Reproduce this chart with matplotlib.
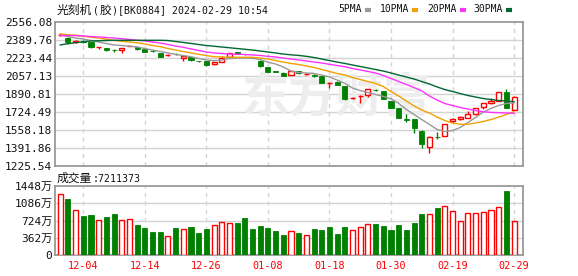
import matplotlib
matplotlib.use("Agg")
import matplotlib.pyplot as plt
from matplotlib.lines import Line2D
import numpy as np
import pandas as pd

MONO = ['DejaVu Sans Mono', 'Noto Sans CJK SC']
CJK = ['Noto Sans CJK SC', 'DejaVu Sans Mono']
plt.rcParams['font.family'] = MONO

# ---------------- data ----------------
holidays = ['2024-01-01', '2024-02-09', '2024-02-12', '2024-02-13',
            '2024-02-14', '2024-02-15', '2024-02-16']
dates = [d.strftime('%m-%d') for d in pd.bdate_range('2023-11-29', '2024-02-29')
         if d.strftime('%Y-%m-%d') not in holidays]

opens = [2432, 2408, 2372, 2383, 2367, 2322, 2313, 2300, 2300, 2332,
         2328, 2302, 2290, 2267, 2248, 2262, 2220, 2230, 2198, 2196,
         2168, 2186, 2230, 2279, 2260, 2233, 2198, 2138, 2103, 2088,
         2066, 2100, 2076, 2068, 2057, 1990, 2004, 1965, 1852, 1870,
         1879, 1930, 1918, 1826, 1759, 1660, 1657, 1552, 1398, 1498,
         1503, 1641, 1657, 1672, 1703, 1774, 1806, 1829, 1906, 1743]
closes = [2440, 2367, 2378, 2372, 2322, 2325, 2300, 2295, 2318, 2337,
          2304, 2279, 2286, 2236, 2253, 2258, 2240, 2205, 2194, 2156,
          2186, 2223, 2267, 2260, 2256, 2228, 2149, 2097, 2098, 2060,
          2103, 2085, 2080, 2055, 1995, 1995, 1977, 1842, 1856, 1875,
          1934, 1925, 1845, 1764, 1672, 1655, 1580, 1429, 1491, 1494,
          1611, 1663, 1681, 1703, 1759, 1805, 1830, 1906, 1764, 1860]
highs = [2452, 2415, 2386, 2390, 2371, 2327, 2318, 2302, 2320, 2341,
         2332, 2305, 2295, 2270, 2262, 2268, 2243, 2233, 2200, 2198,
         2190, 2245, 2272, 2283, 2265, 2237, 2205, 2142, 2107, 2092,
         2106, 2103, 2085, 2072, 2059, 2004, 2008, 1968, 1860, 1878,
         1937, 1937, 1922, 1828, 1762, 1705, 1660, 1556, 1500, 1540,
         1614, 1670, 1685, 1736, 1765, 1808, 1851, 1908, 1937, 1875]
lows = [2425, 2353, 2366, 2366, 2318, 2305, 2291, 2277, 2267, 2330,
        2300, 2277, 2280, 2230, 2240, 2253, 2198, 2200, 2186, 2152,
        2160, 2183, 2225, 2257, 2250, 2222, 2140, 2094, 2092, 2055,
        2062, 2080, 2070, 2046, 1990, 1943, 1972, 1838, 1848, 1810,
        1860, 1918, 1840, 1760, 1668, 1632, 1527, 1395, 1348, 1475,
        1500, 1625, 1650, 1668, 1700, 1750, 1803, 1825, 1758, 1740]

ma5 = [2436, 2422, 2408, 2399, 2385, 2371, 2357, 2344, 2339, 2332,
       2325, 2311, 2297, 2283, 2270, 2256, 2246, 2235, 2219, 2205,
       2198, 2205, 2219, 2223, 2223, 2221, 2209, 2186, 2168, 2140,
       2103, 2089, 2085, 2080, 2066, 2048, 2020, 1989, 1946, 1923,
       1904, 1886, 1868, 1847, 1804, 1748, 1701, 1655, 1609, 1563,
       1545, 1553, 1581, 1627, 1674, 1724, 1757, 1785, 1803, 1808]
ma10 = [2445, 2439, 2434, 2425, 2415, 2408, 2397, 2386, 2378, 2371,
        2364, 2353, 2339, 2328, 2311, 2297, 2283, 2270, 2258, 2246,
        2235, 2233, 2230, 2230, 2230, 2230, 2223, 2214, 2200, 2186,
        2173, 2163, 2150, 2136, 2117, 2099, 2080, 2066, 2043, 2025,
        2006, 1989, 1960, 1914, 1872, 1826, 1780, 1743, 1715, 1678,
        1646, 1623, 1611, 1611, 1623, 1637, 1655, 1678, 1701, 1727]
ma20 = [2432, 2431, 2430, 2427, 2422, 2418, 2413, 2408, 2402, 2395,
        2387, 2381, 2371, 2362, 2348, 2334, 2322, 2307, 2293, 2279,
        2270, 2265, 2260, 2258, 2256, 2251, 2247, 2239, 2233, 2223,
        2214, 2205, 2196, 2186, 2177, 2165, 2154, 2143, 2126, 2113,
        2099, 2085, 2062, 2034, 2006, 1979, 1951, 1919, 1872, 1835,
        1803, 1784, 1766, 1752, 1738, 1727, 1721, 1718, 1715, 1712]
ma30 = [2344, 2356, 2365, 2374, 2381, 2383, 2385, 2387, 2387, 2387,
        2387, 2387, 2387, 2387, 2385, 2376, 2367, 2358, 2348, 2339,
        2332, 2325, 2318, 2311, 2304, 2297, 2288, 2279, 2270, 2260,
        2253, 2247, 2239, 2228, 2214, 2200, 2186, 2173, 2159, 2145,
        2131, 2117, 2103, 2085, 2066, 2048, 2029, 2006, 1983, 1956,
        1932, 1914, 1895, 1877, 1863, 1849, 1840, 1831, 1826, 1820]

volumes = [1289, 1176, 953, 812, 834, 743, 792, 855, 743, 764,
           624, 561, 477, 477, 407, 561, 550, 582, 456, 540,
           638, 701, 680, 666, 771, 540, 603, 561, 498, 414,
           512, 456, 428, 540, 519, 582, 441, 582, 533, 596,
           659, 645, 603, 519, 624, 519, 666, 855, 869, 981,
           1037, 932, 722, 890, 890, 911, 953, 1016, 1337, 721]
vol_up = "RGRGGRGGRRGGGGRGRGGGRRRGGGGGGGRGRGGGGGRRRGGGGGGGRGRRRRRRRRGR"

price_ticks = [2556.08, 2389.76, 2223.44, 2057.13, 1890.81, 1724.49, 1558.18, 1391.86, 1225.54]
vol_ticks = [0, 362, 724, 1086, 1448]
vol_tick_labels = ['0', '362万', '724万', '1086万', '1448万']
date_ticks = ['12-04', '12-14', '12-26', '01-08', '01-18', '01-30', '02-19', '02-29']

title_parts = ['光刻机', '(', '胶', ')[BK0884] 2024-02-29 10:54']
vol_title_parts = ['成交量', ':7211373']
ma_names = ['5PMA', '10PMA', '20PMA', '30PMA']

# ---------------- style ----------------
RED = '#ff0000'
GREEN = '#008000'
ma_colors = ['#999999', '#f0a000', '#ff33ff', '#006633']
FRAME = '#999999'
GRID = '#d3d3d3'
TXT = '#111111'

W, H = 578, 276
fig = plt.figure(figsize=(W / 100, H / 100), dpi=100)

def fx(px):
    return px / W

def fy(py):
    return 1 - py / H

L, R = 54.5, 522.5
ax = fig.add_axes([fx(L), fy(166), fx(R - L), fy(22) - fy(166)])
axv = fig.add_axes([fx(L), fy(255), fx(R - L), fy(186) - fy(255)])

n = len(closes)
x = np.arange(n)
xlim = (-0.75, n + 0.1)
tick_idx = [dates.index(d) for d in date_ticks]

for a in (ax, axv):
    a.set_xlim(*xlim)
    for s in a.spines.values():
        s.set_color(FRAME)
        s.set_linewidth(1.3)
    a.set_xticks(tick_idx)
    for t in tick_idx:
        a.axvline(t, color=GRID, lw=1, ls=(0, (3, 3)), zorder=0)
    a.tick_params(length=0, pad=1.5)

# main panel
ax.set_ylim(price_ticks[-1], price_ticks[0])
ax.set_yticks(price_ticks)
ax.set_yticklabels(['%.2f' % v for v in price_ticks], fontsize=8, color=TXT)
for v in price_ticks[1:-1]:
    ax.axhline(v, color=GRID, lw=1, zorder=0)
ax.set_xticklabels([])

# watermark
ax.text(0.6, 0.47, '东方财富', transform=ax.transAxes, fontsize=34, color='#ededed',
        fontweight='bold', ha='center', va='center', family=['Noto Sans CJK SC'], zorder=0)

w = 0.66
for i in range(n):
    o, c, h, l = opens[i], closes[i], highs[i], lows[i]
    up = c >= o
    col = RED if up else GREEN
    ax.vlines(x[i], l, h, color=col, lw=1, zorder=2)
    lo, hi = min(o, c), max(o, c)
    height = max(hi - lo, 1.5)
    if up:
        ax.bar(x[i], height, bottom=lo, width=w, facecolor='white', edgecolor=col,
               lw=1, zorder=3)
    else:
        ax.bar(x[i], height, bottom=lo, width=w, facecolor=col, edgecolor=col,
               lw=0.6, zorder=3)

for vals, col in zip([ma5, ma10, ma20, ma30], ma_colors):
    ax.plot(x, vals, color=col, lw=1, zorder=4)

# volume panel
axv.set_ylim(0, vol_ticks[-1])
axv.set_yticks(vol_ticks)
axv.set_yticklabels(vol_tick_labels, fontsize=8, color=TXT)
for v in vol_ticks[1:-1]:
    axv.axhline(v, color=GRID, lw=1, zorder=0)
axv.set_xticklabels(date_ticks, fontsize=7.3, color=RED)
axv.tick_params(axis='x', pad=4)
for i in range(n):
    if vol_up[i] == 'R':
        axv.bar(x[i], volumes[i], width=w, facecolor='white', edgecolor=RED, lw=1, zorder=3)
    else:
        axv.bar(x[i], volumes[i], width=w, facecolor=GREEN, edgecolor=GREEN, lw=0.6, zorder=3)

# texts: mixed-size runs (CJK larger, ASCII half-width)
renderer = fig.canvas.get_renderer()

def run_text(x_px, base_px, parts):
    cur = x_px
    for s in parts:
        is_cjk = any(ord(ch) > 0x2E80 for ch in s)
        t = fig.text(fx(cur), fy(base_px), s, fontsize=8.5 if is_cjk else 7.1,
                     family=CJK if is_cjk else MONO, va='baseline', ha='left', color=TXT)
        cur = t.get_window_extent(renderer).x1 + 0.5

run_text(57, 13.5, title_parts)
run_text(57, 182, vol_title_parts)

leg_text_x = [338, 380, 427, 473]
leg_mark_x = [365, 412, 460, 506]
for name, col, lx, mx in zip(ma_names, ma_colors, leg_text_x, leg_mark_x):
    fig.text(fx(lx), fy(9.5), name, fontsize=7, va='center', ha='left', color=TXT)
    fig.add_artist(Line2D([fx(mx), fx(mx + 6)], [fy(10), fy(10)], color=col, lw=3,
                          solid_capstyle='butt'))

fig.savefig('out.png', dpi=100)
